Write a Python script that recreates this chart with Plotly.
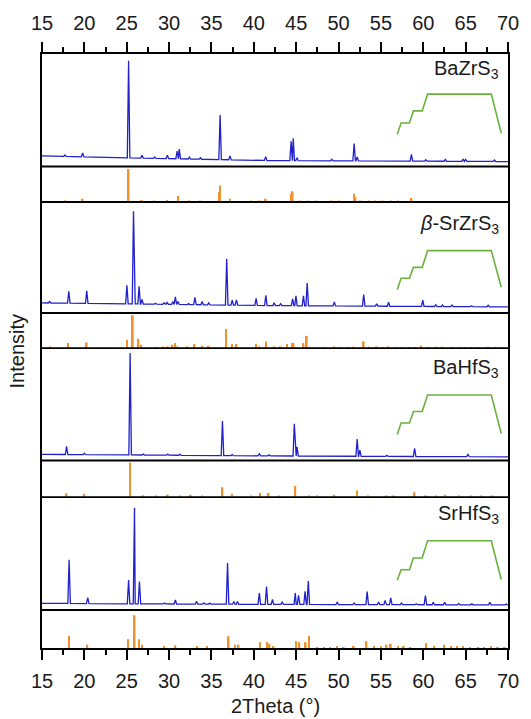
import numpy as np
import plotly.graph_objects as go

# ---------------- data ----------------
x_min, x_max = 15, 70

# Measured XRD patterns: peak positions (deg 2theta) and heights (strongest = 100)
bazrs3_pos = [17.7, 19.8, 25.22, 26.8, 28.3, 29.8, 30.95, 31.2, 32.4, 33.7, 36.02, 37.18, 41.4,
              44.4, 44.65, 45.1, 49.2, 51.84, 52.2, 58.6, 60.3, 62.6, 64.7, 65.0, 68.4]
bazrs3_int = [1.5, 4, 100, 3, 1.5, 3.5, 8, 10, 2, 1.5, 46, 4, 4,
              20, 23, 3, 1.5, 18, 4, 7, 1.5, 2, 2.5, 2, 1.5]
bazrs3_bg_x = [15, 24, 42, 70]
bazrs3_bg_y = [10.9, 9.1, 6.1, 5.1]

srzrs3_pos = [15.9, 18.16, 20.28, 25.02, 25.8, 26.46, 26.8, 28.4, 29.4, 29.77, 30.45, 30.74, 31.05,
              32.3, 33.05, 33.9, 34.68, 36.8, 37.45, 37.95, 40.27, 41.42, 42.4, 43.16, 44.58,
              44.97, 45.86, 46.3, 49.5, 52.97, 54.5, 55.9, 59.94, 61.48, 62.26, 63.4, 65.7, 67.66]
srzrs3_int = [1.6, 12.8, 13.5, 20, 100, 19, 5, 1, 1.5, 2, 3.2, 8.2, 3.3,
              1, 7.8, 3.5, 2.1, 50, 5.3, 5.7, 7.5, 11, 3.2, 2.1, 7.5,
              10.7, 10.7, 24.5, 4.3, 12.5, 2.5, 4.3, 6.7, 2, 1.6, 1.6, 1, 1.6]
srzrs3_bg_x = [15, 26, 42, 70]
srzrs3_bg_y = [10.9, 9.8, 8.0, 6.6]

bahfs3_pos = [17.9, 20.0, 25.4, 26.96, 29.85, 31.27, 33.8, 36.3, 37.45, 40.65, 41.8,
              44.78, 45.1, 52.2, 52.52, 55.7, 58.98, 65.27, 67.3]
bahfs3_int = [8, 1.3, 100, 1, 1, 1, 0.7, 34, 1, 2, 1,
              31.7, 9, 17, 6, 1, 8, 2.6, 0.5]
bahfs3_bg_x = [15, 25, 45, 70]
bahfs3_bg_y = [6.1, 5.5, 4.4, 3.6]

srhfs3_pos = [18.2, 20.4, 25.22, 25.92, 26.5, 29.47, 30.74, 33.24, 34.1, 34.8, 36.9, 37.64, 38.07,
              40.65, 41.5, 42.2, 43.35, 44.9, 45.28, 46.05, 46.43, 49.84, 51.84, 53.38, 54.73,
              55.5, 56.16, 57.43, 59.17, 60.25, 61.18, 62.52, 64.19, 65.73, 67.85, 69.8]
srhfs3_int = [45.5, 6.2, 24.7, 100, 23.3, 1, 4.1, 2.8, 1.3, 1, 42.9, 2.8, 2.8,
              11.6, 18.5, 5.1, 2.7, 12, 9.6, 13.7, 24.4, 2.7, 1.7, 13.7, 2.7,
              4.4, 7.2, 1.7, 1, 9.6, 2.7, 2.7, 1.5, 1, 2.7, 1]
srhfs3_bg_x = [15, 26, 45, 70]
srhfs3_bg_y = [7.0, 6.4, 5.8, 5.3]

# Reference stick patterns (strongest = 100)
ref_bazrs3_pos = [17.7, 19.8, 25.22, 26.76, 28.3, 29.77, 31.08, 32.4, 33.7, 35.9, 36.02, 37.18, 39.7,
                  40.7, 41.4, 44.45, 44.58, 45.5, 46.4, 47.4, 49.2, 50.1, 51.84, 52.0, 52.6, 53.6,
                  54.3, 55.2, 56.2, 57.0, 58.6]
ref_bazrs3_int = [5, 10, 100, 6, 4.5, 6, 18, 4.5, 4.5, 30, 50, 10, 3,
                  3, 10, 24, 33, 3, 3, 3, 3, 3, 25, 15, 3, 3,
                  3, 3, 3, 3, 12]

ref_srzrs3_pos = [15.96, 18.08, 20.28, 25.02, 25.72, 26.38, 26.7, 28.4, 29.27, 29.85, 30.4, 30.7, 31.0,
                  32.16, 33.0, 33.9, 34.67, 36.71, 37.45, 37.95, 40.27, 40.65, 41.42, 42.4, 43.16,
                  43.93, 44.5, 44.7, 45.86, 46.25, 46.6, 47.5, 48.2, 49.5, 50.3, 51.2, 51.8, 52.97,
                  53.6, 54.5, 55.3, 55.9, 56.7, 57.5, 58.3, 59.0, 59.75, 60.5, 61.5, 62.3, 63.4,
                  64.2, 65.0, 65.7, 66.5, 67.7, 68.5, 69.3]
ref_srzrs3_int = [5, 15, 17, 25, 100, 28, 10, 3, 5, 5, 10, 15, 5,
                  5, 12, 7, 7, 58, 12, 12, 13, 5, 20, 5, 5,
                  12, 15, 15, 15, 37, 3, 3, 3, 5, 3, 3, 4, 20,
                  4, 5, 3, 5, 3, 3, 3, 3, 7, 3, 4, 4, 3,
                  3, 3, 3, 3, 4, 3, 3]

ref_bahfs3_pos = [17.9, 20.0, 25.4, 26.96, 28.5, 29.85, 31.3, 32.55, 33.9, 36.3, 37.45, 39.7, 40.77,
                  41.74, 43.0, 44.9, 46.5, 47.5, 49.5, 52.2, 53.5, 55.7, 56.5, 58.98, 60.3, 61.5,
                  62.6, 64.2, 65.7, 66.8, 68.2]
ref_bahfs3_int = [11, 9.5, 100, 5, 3, 6.5, 3, 6.5, 3, 28, 9.5, 3, 11.5,
                  11.5, 3, 32, 3, 3, 6.5, 19, 3, 4, 3, 13.5, 3, 3,
                  6.5, 3, 4, 3, 3]

ref_srhfs3_pos = [18.2, 20.36, 25.18, 25.93, 26.44, 26.84, 29.4, 30.75, 33.3, 34.5, 37.03, 37.8, 38.2,
                  40.75, 41.54, 41.85, 42.33, 44.99, 45.38, 46.12, 46.52, 47.5, 48.3, 49.0, 49.8,
                  50.6, 51.8, 53.3, 54.2, 55.0, 55.66, 56.17, 57.0, 57.7, 58.5, 60.36, 61.3, 62.5,
                  63.3, 64.0, 64.7, 65.5, 66.5, 67.2, 68.0, 68.8, 69.6]
ref_srhfs3_int = [37, 10, 27, 100, 27, 10, 5, 8, 4.5, 4.5, 36, 10, 10,
                  18, 18, 13, 6, 21, 18, 18, 37, 3, 3, 3, 4,
                  3, 4, 21, 4, 4, 10, 13, 4, 4, 3, 15, 6, 10,
                  4, 4, 4, 3, 3, 3, 6, 3, 3]

sample_names = ["BaZrS<sub>3</sub>", "<i>β</i>-SrZrS<sub>3</sub>", "BaHfS<sub>3</sub>", "SrHfS<sub>3</sub>"]

# Synthesis temperature-profile sketch (x in deg, heights as fraction of panel height)
profile_x = [56.93, 57.38, 58.37, 58.84, 59.87, 60.51, 68.03, 69.2]
profile_y = [
    [0.287, 0.386, 0.386, 0.494, 0.494, 0.643, 0.643, 0.297],
    [0.209, 0.313, 0.313, 0.411, 0.411, 0.562, 0.562, 0.232],
    [0.231, 0.333, 0.333, 0.436, 0.436, 0.582, 0.582, 0.240],
    [0.264, 0.356, 0.356, 0.461, 0.461, 0.613, 0.613, 0.270],
]

# ---------------- styling / layout ----------------
BLUE = "#2020CC"
ORANGE = "#F0922B"
GREEN = "#6AB23E"
FONT = "Liberation Sans, Arial, Helvetica, sans-serif"
TXT = "#1a1a1a"

W, H = 531, 719
ML, MR, MT, MB = 42, 14, 46, 71
plot_h = H - MT - MB
edges_px = [46, 160, 196, 308.5, 344, 458, 495, 609.5, 648]  # panel edges from top
domains = []
for i in range(8):
    lo = (648 - edges_px[i + 1]) / plot_h
    hi = (648 - edges_px[i]) / plot_h
    domains.append([max(0, lo), min(1, hi)])

main_ymax = [115.9, 119.9, 110.4, 117.7]
ref_ymax = [108, 106.6, 105.7, 116]
label_pos = [0.865, 0.80, 0.815, 0.845]

patterns = [
    (bazrs3_pos, bazrs3_int, bazrs3_bg_x, bazrs3_bg_y),
    (srzrs3_pos, srzrs3_int, srzrs3_bg_x, srzrs3_bg_y),
    (bahfs3_pos, bahfs3_int, bahfs3_bg_x, bahfs3_bg_y),
    (srhfs3_pos, srhfs3_int, srhfs3_bg_x, srhfs3_bg_y),
]
refs = [
    (ref_bazrs3_pos, ref_bazrs3_int),
    (ref_srzrs3_pos, ref_srzrs3_int),
    (ref_bahfs3_pos, ref_bahfs3_int),
    (ref_srhfs3_pos, ref_srhfs3_int),
]


def pattern_line(pos, inten, bg_x, bg_y, hw=0.15):
    pts = [(bx, by) for bx, by in zip(bg_x, bg_y)]
    for p, h in zip(pos, inten):
        for xx, hh in ((p - hw, 0.0), (p, h), (p + hw, 0.0)):
            pts.append((xx, float(np.interp(xx, bg_x, bg_y)) + hh))
    pts.sort(key=lambda t: t[0])
    return [t[0] for t in pts], [t[1] for t in pts]


fig = go.Figure()
layout = dict(
    width=W, height=H,
    margin=dict(l=ML, r=MR, t=MT, b=MB),
    paper_bgcolor="white", plot_bgcolor="white",
    showlegend=False, barmode="overlay",
    font=dict(family=FONT, size=20, color=TXT),
)

annotations = []
shapes = []
for i in range(8):
    n = i + 1
    xs = "x" if n == 1 else f"x{n}"
    ys = "y" if n == 1 else f"y{n}"
    xa = dict(
        domain=[0, 1], range=[x_min, x_max], anchor=ys,
        showline=False, showgrid=False, zeroline=False, ticks="", showticklabels=False,
    )
    if n != 1:
        xa["matches"] = "x"
    if i in (0, 7):
        xa.update(
            side="top" if i == 0 else "bottom",
            showline=True, mirror=False, linecolor="black", linewidth=1.5,
            ticks="outside", ticklen=10, tickwidth=1.5, tickcolor="black",
            tick0=15, dtick=5, showticklabels=True,
            tickfont=dict(family=FONT, size=20, color=TXT),
            ticklabelstandoff=4,
            minor=dict(ticks="outside", ticklen=5, tickwidth=1.5, tickcolor="black",
                       tick0=15, dtick=2.5),
        )
    k = i // 2
    ymax = main_ymax[k] if i % 2 == 0 else ref_ymax[k]
    ya = dict(
        domain=domains[i], range=[0, ymax], anchor=xs,
        showline=True, mirror=True, linecolor="black", linewidth=1.5,
        showgrid=False, zeroline=False, ticks="", showticklabels=False,
    )
    layout["xaxis" if n == 1 else f"xaxis{n}"] = xa
    layout["yaxis" if n == 1 else f"yaxis{n}"] = ya

    if i < 7:
        shapes.append(dict(type="line", xref="paper", yref="paper", x0=0, x1=1,
                           y0=domains[i][0], y1=domains[i][0],
                           line=dict(color="black", width=1.8), layer="above"))

    if i % 2 == 0:
        pos, inten, bgx, bgy = patterns[k]
        lx, ly = pattern_line(pos, inten, bgx, bgy)
        fig.add_trace(go.Scatter(x=lx, y=ly, mode="lines", line=dict(color=BLUE, width=1.3),
                                 xaxis=xs, yaxis=ys, hoverinfo="skip"))
        fig.add_trace(go.Scatter(x=profile_x, y=[f * ymax for f in profile_y[k]], mode="lines",
                                 line=dict(color=GREEN, width=1.6), xaxis=xs, yaxis=ys,
                                 hoverinfo="skip"))
        annotations.append(dict(
            text=sample_names[k], xref="paper", x=0.985, xanchor="right",
            yref=f"{ys} domain", y=label_pos[k], yanchor="middle", showarrow=False,
            font=dict(family=FONT, size=20, color=TXT),
        ))
    else:
        rpos, rint = refs[k]
        fig.add_trace(go.Bar(x=rpos, y=rint, width=0.2, marker=dict(color=ORANGE, line=dict(width=0)),
                             xaxis=xs, yaxis=ys, hoverinfo="skip"))

annotations.append(dict(
    text="2Theta (°)", xref="paper", x=0.5, xanchor="center",
    yref="paper", y=(648 - 707) / plot_h, yanchor="middle", showarrow=False,
    font=dict(family=FONT, size=20, color=TXT),
))
annotations.append(dict(
    text="Intensity", xref="paper", x=(17 - ML) / (W - ML - MR), xanchor="center",
    yref="paper", y=0.5, yanchor="middle", textangle=-90, showarrow=False,
    font=dict(family=FONT, size=20, color=TXT),
))
layout["annotations"] = annotations
layout["shapes"] = shapes
fig.update_layout(**layout)

fig.write_html(
    "out.html",
    config={"displayModeBar": False},
    post_script="document.body.style.margin='0px';document.body.style.overflow='hidden';",
)
